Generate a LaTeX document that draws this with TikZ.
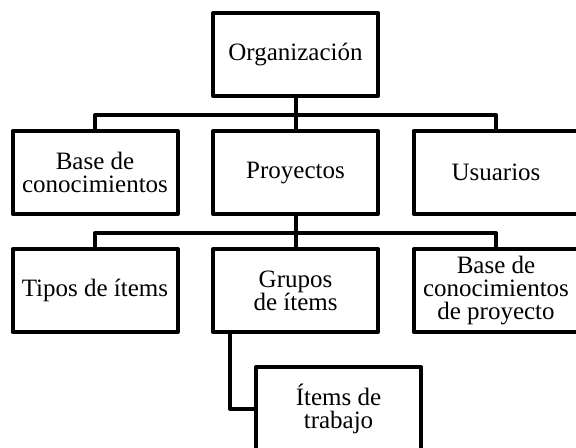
\documentclass[tikz,border=0pt]{standalone}
\usepackage{fontspec}
\setmainfont{Liberation Serif}
\usepackage{tikz}

\begin{document}
\begin{tikzpicture}[node distance=59pt]
	\tikzstyle{box} = [rectangle, minimum width=82.5pt, minimum height=41.5pt, 
	align=center, draw=black, line width=2pt, line join=round, inner sep=1pt, 
	font=\fontsize{12.5}{11.5}\selectfont]
	\tikzstyle{link} = [line width=2pt, line join=round]
	\useasboundingbox (0,0) rectangle (288pt,-223.5pt);
	\node (organizacion) [box] at (147.75pt,-27.25pt) {Organización};
	\node (proyectos) [box, below of=organizacion] {Proyectos};
	\node (baseConocimientos) [box, left of=proyectos, xshift=-41.25pt] 
	{Base de\\conocimientos};
	\node (usuarios) [box, right of=proyectos, xshift=41.25pt] {Usuarios};
	\node (grupos) [box, below of=proyectos] {Grupos\\de ítems};
	\node (tipos) [box, left of=grupos, xshift=-41.25pt] {Tipos de ítems};
	\node (baseProyecto) [box, right of=grupos, xshift=41.25pt] 
	{Base de\\conocimientos\\de proyecto};
	\node (items) [box, below of=grupos, xshift=21.5pt] {Ítems de\\trabajo};
	\draw [link] (organizacion) -- (proyectos);
	\draw [link] (organizacion.south) -- ++(0,-8.5pt) -| (baseConocimientos.north);
	\draw [link] (organizacion.south) -- ++(0,-8.5pt) -| (usuarios.north);
	\draw [link] (proyectos) -- (grupos);
	\draw [link] (proyectos.south) -- ++(0,-8.5pt) -| (tipos.north);
	\draw [link] (proyectos.south) -- ++(0,-8.5pt) -| (baseProyecto.north);
	\draw [link] ([xshift=9.5pt]grupos.south west) |- (items.west);
\end{tikzpicture}
\end{document}
